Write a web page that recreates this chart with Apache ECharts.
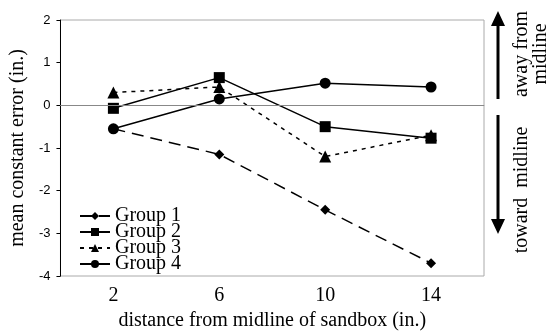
<!DOCTYPE html>
<html>
<head>
<meta charset="utf-8">
<script src="https://cdn.jsdelivr.net/npm/echarts@6/dist/echarts.min.js"></script>
<style>
  html, body { margin: 0; padding: 0; background: #fff; }
  #main { width: 552px; height: 336px; }
</style>
</head>
<body>
<div id="main"></div>
<script>
var categories = ['2', '6', '10', '14'];
var group1 = [-0.55, -1.15, -2.45, -3.7];
var group2 = [-0.07, 0.65, -0.5, -0.77];
var group3 = [0.3, 0.43, -1.2, -0.7];
var group4 = [-0.55, 0.15, 0.52, 0.43];

var serif = '"Liberation Serif", "DejaVu Serif", serif';

function line(name, data, symbol, size, type) {
    return {
        name: name,
        type: 'line',
        data: data,
        symbol: symbol,
        symbolSize: size,
        itemStyle: { color: '#000' },
        lineStyle: { color: '#000', width: 1.5, type: type },
        z: 3
    };
}

var series = [
    line('Group 1', group1, 'diamond', 10, [12, 7]),
    line('Group 2', group2, 'rect', 11, 'solid'),
    line('Group 3', group3, 'triangle', 12, [4, 5]),
    line('Group 4', group4, 'circle', 11, 'solid')
];
series[0].markLine = {
    silent: true,
    symbol: 'none',
    label: { show: false },
    lineStyle: { color: '#888', type: 'solid', width: 1 },
    data: [{ yAxis: 0 }]
};

var option = {
    animation: false,
    grid: {
        left: 60, right: 68, top: 20, bottom: 58,
        show: true, borderColor: '#aaa', borderWidth: 1
    },
    legend: {
        orient: 'vertical',
        left: 74,
        top: 201,
        itemWidth: 30,
        itemHeight: 10,
        itemGap: -4,
        textStyle: { fontFamily: serif, fontSize: 20, color: '#000' },
        data: ['Group 1', 'Group 2', 'Group 3', 'Group 4']
    },
    xAxis: {
        type: 'category',
        data: categories,
        boundaryGap: true,
        axisLine: { lineStyle: { color: '#aaa', width: 1 } },
        axisTick: { show: false },
        axisLabel: { fontFamily: serif, fontSize: 20, color: '#000', margin: 10 },
        name: 'distance from midline of sandbox (in.)',
        nameLocation: 'middle',
        nameGap: 35,
        nameTextStyle: { fontFamily: serif, fontSize: 20, color: '#000' }
    },
    yAxis: {
        type: 'value',
        min: -4, max: 2, interval: 1,
        axisLine: { show: true, lineStyle: { color: '#000', width: 1 } },
        axisTick: { show: true, length: 4, lineStyle: { color: '#000' } },
        splitLine: { show: false },
        axisLabel: { fontFamily: '"Liberation Sans", Arial, sans-serif', fontSize: 13, color: '#000', margin: 10 },
        name: 'mean constant error (in.)',
        nameLocation: 'middle',
        nameGap: 28,
        nameTextStyle: { fontFamily: serif, fontSize: 20, color: '#000' }
    },
    graphic: [
        { type: 'line', shape: { x1: 498, y1: 24, x2: 498, y2: 99 }, style: { stroke: '#000', lineWidth: 3 } },
        { type: 'polygon', shape: { points: [[491, 26], [505, 26], [498, 11]] }, style: { fill: '#000' } },
        { type: 'line', shape: { x1: 498, y1: 115, x2: 498, y2: 221 }, style: { stroke: '#000', lineWidth: 3 } },
        { type: 'polygon', shape: { points: [[491, 219], [505, 219], [498, 234]] }, style: { fill: '#000' } },
        { type: 'text', x: 522, y: 54, rotation: Math.PI / 2,
          style: { text: 'away from', font: '20px ' + serif, fill: '#000', align: 'center', verticalAlign: 'middle' } },
        { type: 'text', x: 541, y: 54, rotation: Math.PI / 2,
          style: { text: 'midline', font: '20px ' + serif, fill: '#000', align: 'center', verticalAlign: 'middle' } },
        { type: 'text', x: 522, y: 190, rotation: Math.PI / 2,
          style: { text: 'toward  midline', font: '20px ' + serif, fill: '#000', align: 'center', verticalAlign: 'middle' } }
    ],
    series: series
};

echarts.init(document.getElementById('main')).setOption(option);
</script>
</body>
</html>
